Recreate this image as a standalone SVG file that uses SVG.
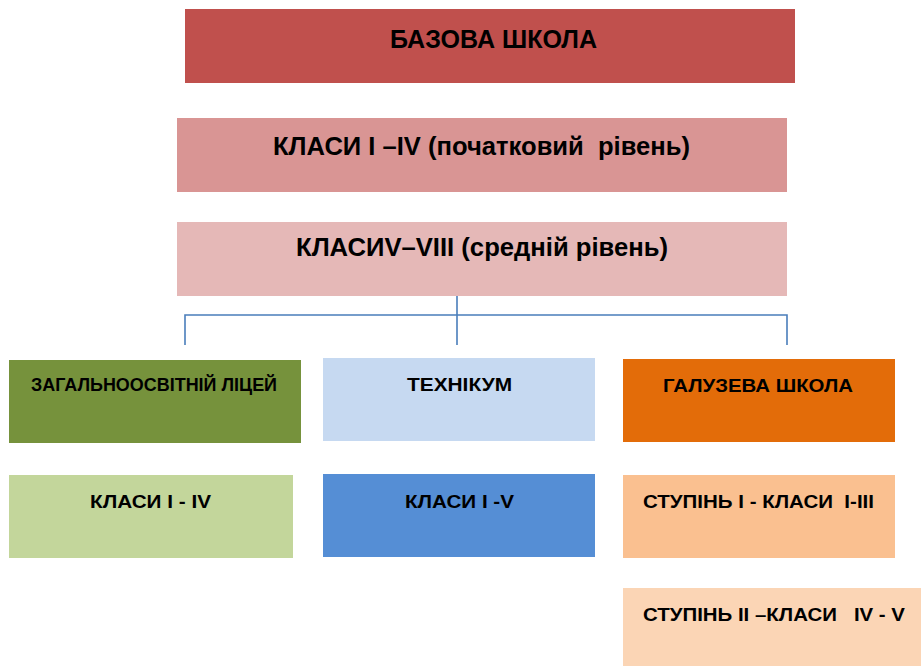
<svg xmlns="http://www.w3.org/2000/svg" width="921" height="666" viewBox="0 0 921 666">
<style>
text{font-family:"Liberation Sans","Noto Sans",Arial,sans-serif;font-weight:bold;fill:#000;white-space:pre}
.big{font-size:25px}
.sm{font-size:19px}
.conn{fill:none;stroke:#4a7ebb;stroke-width:1.6}
</style>
<rect width="921" height="666" fill="#fff"/>
<g id="n-bazova"><rect x="185" y="9" width="610" height="74" fill="#c0504d"/><text class="big" x="390" y="48" textLength="207" lengthAdjust="spacingAndGlyphs">БАЗОВА ШКОЛА</text></g>
<g id="n-klasy14"><rect x="177" y="118" width="610" height="74" fill="#d99594"/><text class="big" x="273" y="155" textLength="417" lengthAdjust="spacingAndGlyphs" xml:space="preserve">КЛАСИ I –IV (початковий  рівень)</text></g>
<g id="n-klasy58"><rect x="177" y="222" width="610" height="74" fill="#e5b8b7"/><text class="big" x="296" y="256" textLength="372" lengthAdjust="spacingAndGlyphs">КЛАСИV–VIII (средній рівень)</text></g>
<g id="connectors"><path class="conn" d="M457 296V315M185 345V315H787V345M457 315V345"/></g>
<g id="n-licey"><rect x="9" y="360" width="292" height="83" fill="#76923c"/><text class="sm" x="31" y="391" textLength="246" lengthAdjust="spacingAndGlyphs">ЗАГАЛЬНООСВІТНІЙ ЛІЦЕЙ</text></g>
<g id="n-tekhnikum"><rect x="323" y="358" width="272" height="83" fill="#c6d9f1"/><text class="sm" x="407" y="391" textLength="105" lengthAdjust="spacingAndGlyphs">ТЕХНІКУМ</text></g>
<g id="n-haluzeva"><rect x="623" y="359" width="272" height="83" fill="#e36c09"/><text class="sm" x="663" y="392" textLength="190" lengthAdjust="spacingAndGlyphs">ГАЛУЗЕВА ШКОЛА</text></g>
<g id="n-licey-klasy"><rect x="9" y="475" width="284" height="83" fill="#c3d69b"/><text class="sm" x="90" y="508" textLength="121" lengthAdjust="spacingAndGlyphs">КЛАСИ I - IV</text></g>
<g id="n-tekh-klasy"><rect x="323" y="474" width="272" height="83" fill="#558ed5"/><text class="sm" x="405" y="508" textLength="109" lengthAdjust="spacingAndGlyphs">КЛАСИ I -V</text></g>
<g id="n-stupin1"><rect x="623" y="475" width="272" height="83" fill="#fac090"/><text class="sm" x="643" y="508" textLength="231" lengthAdjust="spacingAndGlyphs" xml:space="preserve">СТУПІНЬ I - КЛАСИ  I-III</text></g>
<g id="n-stupin2"><rect x="623" y="588" width="298" height="78" fill="#fbd5b5"/><text class="sm" x="643" y="621" textLength="262" lengthAdjust="spacingAndGlyphs" xml:space="preserve">СТУПІНЬ II –КЛАСИ   IV - V</text></g>
</svg>
